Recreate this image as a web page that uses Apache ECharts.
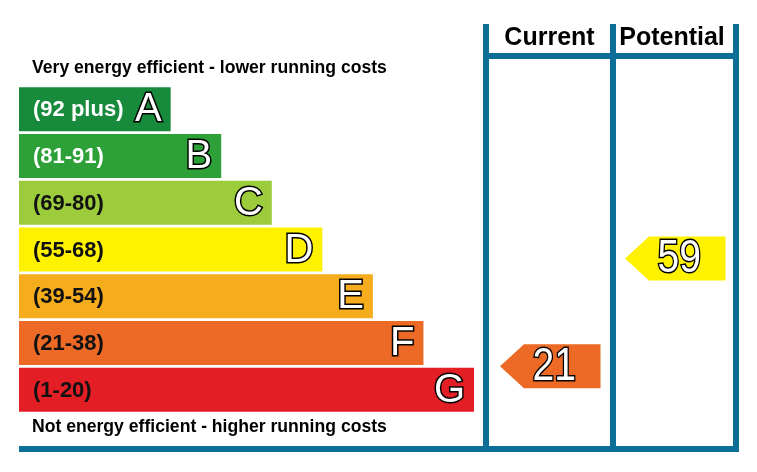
<!DOCTYPE html>
<html>
<head>
<meta charset="utf-8">
<script src="https://cdn.jsdelivr.net/npm/echarts@6/dist/echarts.min.js"></script>
<style>
html,body{margin:0;padding:0;background:#fff;}
#chart{width:757px;height:472px;}
</style>
</head>
<body>
<div id="chart"></div>
<script>
const bands = ['A','B','C','D','E','F','G'];
const bandRanges = ['(92 plus)','(81-91)','(69-80)','(55-68)','(39-54)','(21-38)','(1-20)'];
const bandMin = [92,81,69,55,39,21,1];
const bandMax = [100,91,80,68,54,38,20];
const bandLengths = [3,4,5,6,7,8,9];
const bandColors = ['#178a3c','#2da138','#9ccb3b','#fff200','#f6ad1d','#ec6a25','#e31e25'];
const labelColors = ['#ffffff','#ffffff','#111111','#111111','#111111','#111111','#111111'];
const ratingColumns = ['Current','Potential'];
const ratingValues = [21, 59];
const topText = 'Very energy efficient - lower running costs';
const bottomText = 'Not energy efficient - higher running costs';

const FRAME = '#0d6f98';
const FONT = 'Liberation Sans, Arial, sans-serif';

function bandOf(v){
  for (let i = 0; i < bandMin.length; i++) if (v >= bandMin[i]) return i;
  return bandMin.length - 1;
}
const arrowData = ratingValues.map((v, c) => {
  const b = bandOf(v);
  const frac = (bandMax[b] - v) / (bandMax[b] - bandMin[b]);
  return [c, b + frac, v, b];
});

const chart = echarts.init(document.getElementById('chart'), null, {renderer:'canvas'});
chart.setOption({
  animation: false,
  backgroundColor: '#ffffff',
  grid: [
    {left: 19, top: 86, width: 455, height: 327},
    {left: 486, top: 86, width: 250, height: 327}
  ],
  xAxis: [
    {gridIndex: 0, type: 'value', min: 0, max: 9, show: false},
    {gridIndex: 1, type: 'category', data: ratingColumns, show: false}
  ],
  yAxis: [
    {gridIndex: 0, type: 'category', data: bands, inverse: true, show: false},
    {gridIndex: 1, type: 'value', min: 0, max: 7, inverse: true, show: false}
  ],
  graphic: [
    {type:'rect', shape:{x:483, y:24, width:6, height:428}, style:{fill:FRAME}},
    {type:'rect', shape:{x:610, y:24, width:6, height:428}, style:{fill:FRAME}},
    {type:'rect', shape:{x:733, y:24, width:6, height:428}, style:{fill:FRAME}},
    {type:'rect', shape:{x:483, y:53, width:256, height:6}, style:{fill:FRAME}},
    {type:'rect', shape:{x:19, y:446, width:720, height:6}, style:{fill:FRAME}},
    {type:'text', x:549.5, y:38, style:{text:ratingColumns[0], font:'bold 25px '+FONT, fill:'#000', align:'center', verticalAlign:'middle'}},
    {type:'text', x:672, y:38, style:{text:ratingColumns[1], font:'bold 25px '+FONT, fill:'#000', align:'center', verticalAlign:'middle'}},
    {type:'text', x:32, y:68, style:{text:topText, font:'bold 17.6px '+FONT, fill:'#000', align:'left', verticalAlign:'middle'}},
    {type:'text', x:32, y:427, style:{text:bottomText, font:'bold 17.6px '+FONT, fill:'#000', align:'left', verticalAlign:'middle'}}
  ],
  series: [
    {
      type: 'custom',
      xAxisIndex: 0, yAxisIndex: 0,
      data: bands.map((b, i) => [bandLengths[i], i]),
      encode: {x: 0, y: 1},
      renderItem: function(params, api){
        const i = api.value(1);
        const end = api.coord([api.value(0), i]);
        const start = api.coord([0, i]);
        const h = 44;
        return {
          type: 'group',
          children: [
            {type:'rect', shape:{x:start[0], y:end[1]-h/2, width:end[0]-start[0], height:h}, style:{fill:bandColors[i]}},
            {type:'text', x:start[0]+14, y:end[1]+1, style:{text:bandRanges[i], font:'bold 22px '+FONT, fill:labelColors[i], align:'left', verticalAlign:'middle'}},
            {type:'text', x:end[0]-9, y:end[1]+1, style:{text:bands[i], font:'40px '+FONT, fill:'#fff', stroke:'#000', lineWidth:3, align:'right', verticalAlign:'middle'}}
          ]
        };
      }
    },
    {
      type: 'custom',
      xAxisIndex: 1, yAxisIndex: 1,
      data: arrowData,
      encode: {x: 0, y: 1},
      renderItem: function(params, api){
        const c = api.coord([api.value(0), api.value(1)]);
        const colW = api.size([1, 0])[0];
        const left = c[0] - colW/2;
        const tip = left + 14, join = left + 38, right = left + 114.5;
        const hh = 22;
        const b = api.value(3);
        const cx = (tip + right)/2 + 4;
        return {
          type: 'group',
          children: [
            {type:'polygon', shape:{points:[[tip,c[1]],[join,c[1]-hh],[right,c[1]-hh],[right,c[1]+hh],[join,c[1]+hh]]}, style:{fill:bandColors[b]}},
            {type:'text', x:cx, y:c[1]+1, scaleX:0.85, originX:0, originY:0, style:{text:String(api.value(2)), font:'46px '+FONT, fill:'#fff', stroke:'#000', lineWidth:3, align:'center', verticalAlign:'middle'}}
          ]
        };
      }
    }
  ]
});
</script>
</body>
</html>
